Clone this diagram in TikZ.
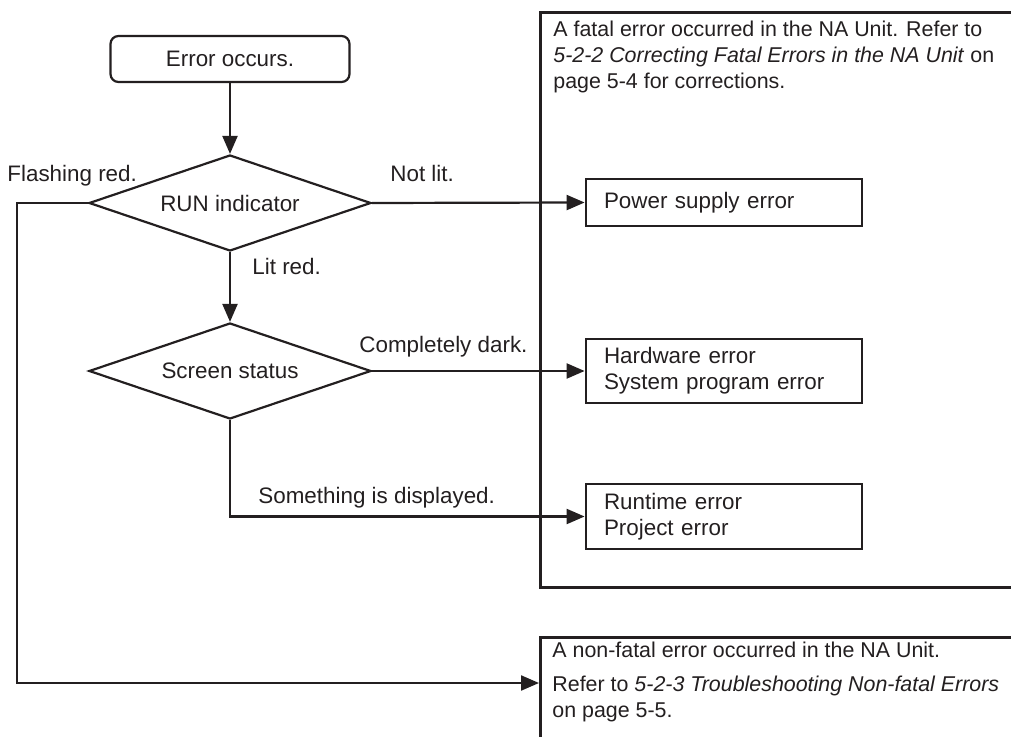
\documentclass[tikz,border=0pt]{standalone}
\usepackage{fontspec}
\setmainfont{Liberation Sans}
\usepackage{xcolor}
\usetikzlibrary{shapes.geometric,arrows.meta}
\definecolor{ink}{HTML}{231F20}

\begin{document}
\begin{tikzpicture}[x=0.5pt,y=-0.5pt,
		font=\fontsize{11.2}{13}\selectfont, text=ink,
		flow/.style={draw=ink, line width=1.1pt, -{Triangle[length=9pt,width=7.5pt]}},
		startbox/.style={draw=ink, line width=1.1pt, rounded corners=4pt, minimum width=119.5pt, minimum height=23pt},
		decision/.style={draw=ink, line width=1.1pt, shape=diamond, aspect=2.94, inner sep=0pt, minimum width=141pt, minimum height=48pt},
		resultbox/.style={draw=ink, line width=1.4pt, inner xsep=9pt, text width=120pt, align=left},
		panel/.style={draw=ink, line width=1.4pt, anchor=north west, minimum width=250.5pt, inner sep=0pt},
		lbl/.style={anchor=base west, inner sep=0pt},
		paratext/.style={anchor=north west, inner sep=0pt, align=left, font=\fontsize{10.7}{13}\selectfont}]
			\useasboundingbox (0,0) rectangle (1011,737);
			\clip (0,0) rectangle (1011,737);
			
			% Panels on the right (they run off the page)
			\node (fatal) at (539,11) [panel, minimum height=287.5pt] {};
			\node (nonfatal) at (539,636) [panel, minimum height=75pt] {};
			\node (fataltext) at (553,21) [paratext] {A fatal error occurred in the NA Unit. Refer to\\
				\textit{5-2-2 Correcting Fatal Errors in the NA Unit} on\\
				page 5-4 for corrections.};
			\node (nonfataltext) at (552,642) [paratext] {A non-fatal error occurred in the NA Unit.\\[4pt]
				Refer to \textit{5-2-3 Troubleshooting Non-fatal Errors}\\
				on page 5-5.};
			
			% Flow chart
			\node (start) at (230,59) [startbox] {Error occurs.};
			\node (run) at (230,203) [decision] {RUN indicator};
			\node (screen) at (230,371) [decision] {Screen status};
			\node (power) at (724,202.5) [resultbox, minimum height=23.5pt] {Power supply error};
			\node (hardware) at (724,371) [resultbox, minimum height=32pt] {Hardware error\\System program error};
			\node (runtime) at (724,516.5) [resultbox, minimum height=32.5pt] {Runtime error\\Project error};
			\coordinate (flashleft) at (17,203);
			\coordinate (nfin) at (539,683);
			
			% Connectors
			\draw[flow] (start) -- (run);
			\draw[flow] (run) -- (screen);
			\draw[flow] (run.east) -- (power.west);
			\draw[flow] (screen.east) -- (hardware.west);
			\draw[flow] (screen.south) |- (runtime.west);
			\draw[flow] (run.west) -- (flashleft) |- (nfin);
			
			% Branch labels
			\node (flashlbl) at (7,182) [lbl] {Flashing red.};
			\node (notlitlbl) at (390,182) [lbl] {Not lit.};
			\node (litlbl) at (252,275) [lbl] {Lit red.};
			\node (darklbl) at (359,352) [lbl] {Completely dark.};
			\node (displbl) at (258,503) [lbl] {Something is displayed.};
		\end{tikzpicture}
\end{document}
